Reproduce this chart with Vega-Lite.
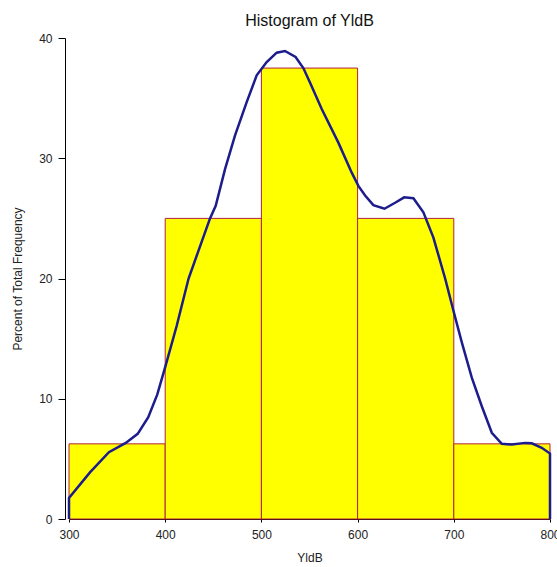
{
  "$schema": "https://vega.github.io/schema/vega-lite/v6.json",
  "autosize": "none",
  "width": 481,
  "height": 481,
  "padding": {"left": 69, "top": 38, "right": 7, "bottom": 48},
  "background": "white",
  "title": {"text": "Histogram of YldB", "fontSize": 16, "font": "Liberation Sans", "fontWeight": "normal", "color": "#111", "anchor": "middle", "frame": "group", "baseline": "alphabetic", "offset": -10},
  "config": {"view": {"stroke": null}, "font": "Liberation Sans"},
  "datasets": {
    "bins": [
      {"lo": 300, "hi": 400, "pct": 6.25},
      {"lo": 400, "hi": 500, "pct": 25},
      {"lo": 500, "hi": 600, "pct": 37.5},
      {"lo": 600, "hi": 700, "pct": 25},
      {"lo": 700, "hi": 800, "pct": 6.25}
    ],
    "curve": [
      {"i": 0, "x": 300, "y": 0},
      {"i": 1, "x": 300, "y": 1.75},
      {"i": 2, "x": 321.8, "y": 3.88},
      {"i": 3, "x": 341.5, "y": 5.55},
      {"i": 4, "x": 359, "y": 6.33},
      {"i": 5, "x": 371.4, "y": 7.08},
      {"i": 6, "x": 382.4, "y": 8.47},
      {"i": 7, "x": 391.8, "y": 10.36},
      {"i": 8, "x": 400.5, "y": 12.78},
      {"i": 9, "x": 411.9, "y": 16.05},
      {"i": 10, "x": 424.3, "y": 20.0},
      {"i": 11, "x": 446.6, "y": 25.0},
      {"i": 12, "x": 452.5, "y": 26.05},
      {"i": 13, "x": 462.2, "y": 29.1},
      {"i": 14, "x": 472.6, "y": 31.9},
      {"i": 15, "x": 484.7, "y": 34.67},
      {"i": 16, "x": 495.1, "y": 36.9},
      {"i": 17, "x": 505.5, "y": 38.0},
      {"i": 18, "x": 515.9, "y": 38.78},
      {"i": 19, "x": 524.5, "y": 38.92},
      {"i": 20, "x": 535.5, "y": 38.42},
      {"i": 21, "x": 543.6, "y": 37.5},
      {"i": 22, "x": 550.5, "y": 36.3},
      {"i": 23, "x": 562.7, "y": 34.1},
      {"i": 24, "x": 580, "y": 31.3},
      {"i": 25, "x": 593.9, "y": 28.8},
      {"i": 26, "x": 600.8, "y": 27.7},
      {"i": 27, "x": 607.8, "y": 26.9},
      {"i": 28, "x": 616.4, "y": 26.1},
      {"i": 29, "x": 627.9, "y": 25.8},
      {"i": 30, "x": 639, "y": 26.3},
      {"i": 31, "x": 648.4, "y": 26.75},
      {"i": 32, "x": 658, "y": 26.67},
      {"i": 33, "x": 668.4, "y": 25.5},
      {"i": 34, "x": 678.8, "y": 23.4},
      {"i": 35, "x": 691, "y": 20.0},
      {"i": 36, "x": 699.7, "y": 17.3},
      {"i": 37, "x": 708.4, "y": 14.67},
      {"i": 38, "x": 718.7, "y": 11.75},
      {"i": 39, "x": 729.1, "y": 9.38},
      {"i": 40, "x": 739.5, "y": 7.17},
      {"i": 41, "x": 749.9, "y": 6.25},
      {"i": 42, "x": 760.3, "y": 6.19},
      {"i": 43, "x": 774.1, "y": 6.33},
      {"i": 44, "x": 781, "y": 6.3},
      {"i": 45, "x": 791.4, "y": 5.92},
      {"i": 46, "x": 800, "y": 5.44},
      {"i": 47, "x": 800, "y": 0}
    ]
  },
  "layer": [
    {
      "data": {"name": "bins"},
      "mark": {"type": "rect", "fill": "#FFFF00", "stroke": "#B02040", "strokeWidth": 1},
      "encoding": {
        "x": {
          "field": "lo", "type": "quantitative",
          "scale": {"domain": [300, 800], "nice": false, "zero": false},
          "axis": {
            "title": "YldB", "values": [300, 400, 500, 600, 700, 800],
            "grid": false, "domainColor": "#000", "tickColor": "#000", "tickSize": 3,
            "labelFontSize": 12, "labelColor": "#222", "labelPadding": 7, "labelFlush": false,
            "titleFontSize": 12, "titleFontWeight": "normal", "titleColor": "#222", "titlePadding": 12
          }
        },
        "x2": {"field": "hi"},
        "y": {
          "field": "pct", "type": "quantitative",
          "scale": {"domain": [0, 40], "nice": false},
          "axis": {
            "title": "Percent of Total Frequency", "values": [0, 10, 20, 30, 40],
            "grid": false, "domainColor": "#000", "tickColor": "#000", "tickSize": 7, "offset": 4,
            "labelFontSize": 12, "labelColor": "#222", "labelPadding": 6,
            "titleFontSize": 12, "titleFontWeight": "normal", "titleColor": "#222", "titlePadding": 14
          }
        },
        "y2": {"datum": 0}
      }
    },
    {
      "data": {"name": "curve"},
      "mark": {"type": "line", "color": "#1C1C8C", "strokeWidth": 2.5, "interpolate": "linear"},
      "encoding": {
        "x": {"field": "x", "type": "quantitative"},
        "y": {"field": "y", "type": "quantitative"},
        "order": {"field": "i", "type": "quantitative"}
      }
    }
  ]
}
